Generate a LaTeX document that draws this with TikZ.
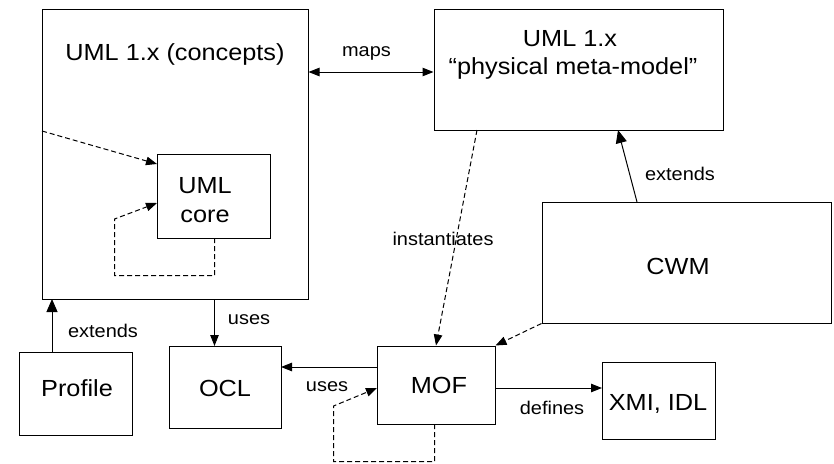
\documentclass[tikz,border=0pt]{standalone}
\usepackage{fontspec}
\setmainfont{Liberation Sans}[FakeStretch=1.085]
\usetikzlibrary{arrows.meta}
\begin{document}
\begin{tikzpicture}[x=1pt,y=-1pt,
  box/.style={draw,line width=1pt,rectangle,inner sep=0pt,anchor=center},
  big/.style={font=\fontsize{23.3}{27}\selectfont,inner sep=0pt,anchor=base},
  small/.style={font=\fontsize{18.4}{22}\selectfont,inner sep=0pt,anchor=base},
  conn/.style={line width=1pt,-{Triangle[length=11pt,width=8.5pt]}},
  ext/.style={line width=1pt,-{Triangle[length=13pt,width=11pt]}},
  dconn/.style={conn,dash pattern=on 5pt off 3pt},
  dline/.style={line width=1pt,dash pattern=on 5pt off 3pt}]
\useasboundingbox (0,0) rectangle (834,463);
% boxes
\node[box,minimum width=266pt,minimum height=290pt] (concepts) at (175,154) {};
\node[box,minimum width=113pt,minimum height=84pt] (core) at (213.5,196) {};
\node[box,minimum width=289pt,minimum height=121pt] (phys) at (578.5,69.5) {};
\node[box,minimum width=289pt,minimum height=121pt] (cwm) at (686.5,262.5) {};
\node[box,minimum width=118pt,minimum height=78pt] (mof) at (436,385) {};
\node[box,minimum width=113pt,minimum height=77pt] (xmi) at (658.5,400.5) {};
\node[box,minimum width=112pt,minimum height=82pt] (ocl) at (225,387) {};
\node[box,minimum width=113pt,minimum height=83pt] (profile) at (75.5,393.5) {};
% texts
\node[big] (t1) at (175,60) {UML 1.x (concepts)};
\node[big] (t2) at (570,46) {UML 1.x};
\node[big] (t3) at (573,74) {“physical meta-model”};
\node[big] (t4) at (205,193) {UML};
\node[big] (t5) at (205,222.7) {core};
\node[big] (t6) at (678,274) {CWM};
\node[big] (t7) at (77,396) {Profile};
\node[big] (t8) at (225,396.7) {OCL};
\node[big] (t9) at (439,393.3) {MOF};
\node[big] (t10) at (658,410) {XMI, IDL};
% labels
\node[small] (l1) at (366.5,56) {maps};
\node[small] (l2) at (680,180) {extends};
\node[small] (l3) at (443,245) {instantiates};
\node[small] (l4) at (249,324) {uses};
\node[small] (l5) at (327,391.7) {uses};
\node[small] (l6) at (103,337.3) {extends};
\node[small] (l7) at (552,414) {defines};
% coordinates
\coordinate (ym) at (0,72);
\coordinate (cl) at (42,131);
\coordinate (ca) at (157,164);
\coordinate (cs) at (214.5,238);
\coordinate (ce) at (157,203);
\coordinate (cu) at (214.5,299);
\coordinate (ou) at (214.5,346);
\coordinate (pn) at (52,352);
\coordinate (cb) at (52,299);
\coordinate (wn) at (637,202);
\coordinate (ps) at (618,130);
\coordinate (pi) at (477,130);
\coordinate (mw) at (377,367);
\coordinate (oe) at (281,367);
\coordinate (me) at (495,388);
\coordinate (xw) at (602,388);
\coordinate (ms) at (434.5,424);
\coordinate (ml) at (377,388);
% connectors
\draw[line width=1pt,{Triangle[length=11pt,width=8.5pt]}-{Triangle[length=11pt,width=8.5pt]}] (concepts.east |- ym) -- (phys.west |- ym);
\draw[dconn] (cl) -- (ca);
\draw[dconn] (cs) -- (214.5,275.5) -- (114.5,275.5) -- (114.5,219) -- (ce);
\draw[conn] (cu) -- (ou);
\draw[ext] (pn) -- (cb);
\draw[ext] (wn) -- (ps);
\draw[dconn] (pi) -- (mof.north);
\draw[dconn] (cwm.south west) -- (mof.north east);
\draw[conn] (mw) -- (oe);
\draw[conn] (me) -- (xw);
\draw[dconn] (ms) -- (434.5,461.5) -- (333.5,461.5) -- (333.5,406) -- (ml);
\end{tikzpicture}
\end{document}
